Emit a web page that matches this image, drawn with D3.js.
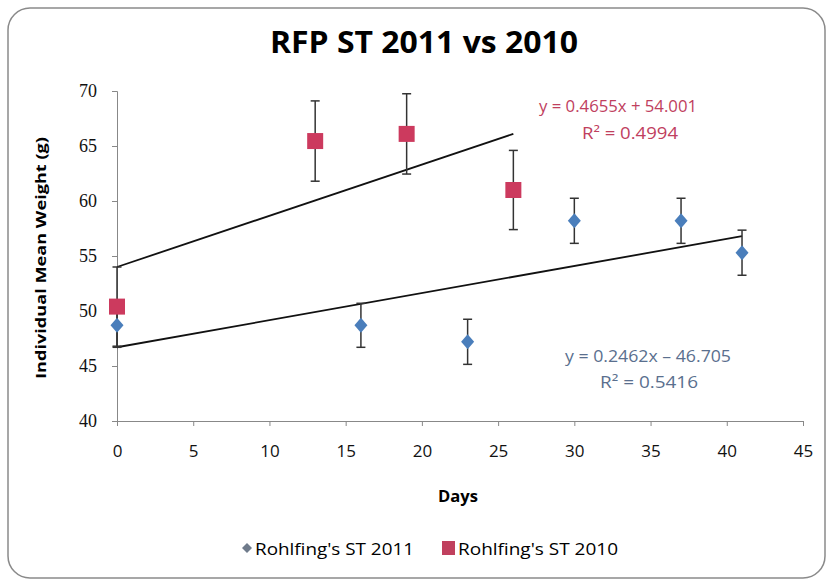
<!DOCTYPE html>
<html><head><meta charset="utf-8">
<script src="https://cdn.jsdelivr.net/npm/d3@7"></script>
<style>body{margin:0;background:#fff;}</style>
</head><body>
<svg id="c" width="830" height="585"></svg>
<script>
const days2011 = [0, 16, 23, 30, 37, 41];
const weight2011 = [48.7, 48.7, 47.2, 58.2, 58.2, 55.3];
const err2011 = [2.0, 2.0, 2.05, 2.05, 2.05, 2.05];
const days2010 = [0, 13, 19, 26];
const weight2010 = [50.4, 65.45, 66.1, 61.0];
const err2010 = [3.6, 3.65, 3.65, 3.6];
const trend2011 = [0.2462, 46.705]; // slope, intercept
const trend2010 = [0.4655, 54.001];
const xTicks = [0,5,10,15,20,25,30,35,40,45];
const yTicks = [40,45,50,55,60,65,70];
const seriesNames = ["Rohlfing's ST 2011", "Rohlfing's ST 2010"];
const eqTexts2010 = ["y = 0.4655x + 54.001", "R² = 0.4994"];
const eqTexts2011 = ["y = 0.2462x – 46.705", "R² = 0.5416"];

const svg = d3.select("#c");
const sans = "'Open Sans', 'DejaVu Sans', sans-serif";
svg.append("rect").attr("x",8).attr("y",8).attr("width",817).attr("height",570)
  .attr("rx",22).attr("fill","#fff").attr("stroke","#8a8a8a").attr("stroke-width",1.5);

const x = d3.scaleLinear().domain([0,45]).range([117,803]);
const y = d3.scaleLinear().domain([40,70]).range([421,91]);

function txt(xp, yp, s, size, opts={}){
  const t = svg.append("text").attr("x",xp).attr("y",yp).attr("text-anchor",opts.anchor||"middle")
    .attr("font-family",opts.family||sans).attr("font-size",size).attr("fill",opts.fill||"#000")
    .attr("font-weight",opts.bold?"bold":"normal").text(s);
  if(opts.len) t.attr("textLength",opts.len).attr("lengthAdjust","spacingAndGlyphs");
  return t;
}

txt(424, 53, "RFP ST 2011 vs 2010", 30, {bold:true, len:308});

// axes
const yAxis = svg.append("g").attr("transform","translate(117,0)")
  .call(d3.axisLeft(y).tickValues(yTicks).tickSize(5).tickPadding(15));
yAxis.select(".domain").attr("stroke","#888");
yAxis.selectAll("line").attr("stroke","#888");
yAxis.selectAll("text").attr("font-family","'Liberation Serif', serif").attr("font-size",18).attr("fill","#111");

const xAxis = svg.append("g").attr("transform","translate(0,421)")
  .call(d3.axisBottom(x).tickValues(xTicks).tickSize(5).tickPadding(19));
xAxis.select(".domain").attr("stroke","#888");
xAxis.selectAll("line").attr("stroke","#888");
xAxis.selectAll("text").attr("font-family",sans).attr("font-size",17).attr("fill","#111");

svg.append("text").attr("transform","translate(46,258) rotate(-90)").attr("text-anchor","middle")
  .attr("font-family",sans).attr("font-weight","bold").attr("font-size",15)
  .attr("textLength",242).attr("lengthAdjust","spacingAndGlyphs").text("Individual Mean Weight (g)");
txt(458, 502, "Days", 16, {bold:true, len:40});

// trend lines
function trend(t, x0, x1){
  svg.append("line").attr("x1",x(x0)).attr("y1",y(t[0]*x0+t[1]))
    .attr("x2",x(x1)).attr("y2",y(t[0]*x1+t[1])).attr("stroke","#111").attr("stroke-width",1.8);
}
trend(trend2010, 0, d3.max(days2010));
trend(trend2011, 0, d3.max(days2011));

// error bars
function errbars(ds, ws, es){
  ds.forEach((d,i)=>{
    const g = svg.append("g").attr("stroke","#333").attr("stroke-width",1.5);
    g.append("line").attr("x1",x(d)).attr("x2",x(d)).attr("y1",y(ws[i]+es[i])).attr("y2",y(ws[i]-es[i]));
    g.append("line").attr("x1",x(d)-4.5).attr("x2",x(d)+4.5).attr("y1",y(ws[i]+es[i])).attr("y2",y(ws[i]+es[i]));
    g.append("line").attr("x1",x(d)-4.5).attr("x2",x(d)+4.5).attr("y1",y(ws[i]-es[i])).attr("y2",y(ws[i]-es[i]));
  });
}
errbars(days2011, weight2011, err2011);
errbars(days2010, weight2010, err2010);

const blue = "#4a7ebb", red = "#cc3a5e";
days2011.forEach((d,i)=>{
  const cx=x(d), cy=y(weight2011[i]);
  svg.append("path").attr("d",`M${cx},${cy-7.5}L${cx+6.5},${cy}L${cx},${cy+7.5}L${cx-6.5},${cy}Z`).attr("fill",blue);
});
days2010.forEach((d,i)=>{
  svg.append("rect").attr("x",x(d)-8).attr("y",y(weight2010[i])-8).attr("width",16).attr("height",16).attr("fill",red);
});

// equations
txt(618, 112, eqTexts2010[0], 16, {fill:"#c0405e", len:158});
txt(630, 139, eqTexts2010[1], 16, {fill:"#c0405e", len:96});
txt(648, 362, eqTexts2011[0], 16, {fill:"#5a6f8e", len:166});
txt(649, 388, eqTexts2011[1], 16, {fill:"#5a6f8e", len:98});

// legend
svg.append("path").attr("d","M247,543L252,548L247,553L242,548Z").attr("fill","#6f7b8b");
txt(255, 555, seriesNames[0], 17, {anchor:"start", len:159});
svg.append("rect").attr("x",442).attr("y",541).attr("width",13).attr("height",14).attr("fill","#c0405e");
txt(458, 555, seriesNames[1], 17, {anchor:"start", len:160});
</script>
</body></html>
